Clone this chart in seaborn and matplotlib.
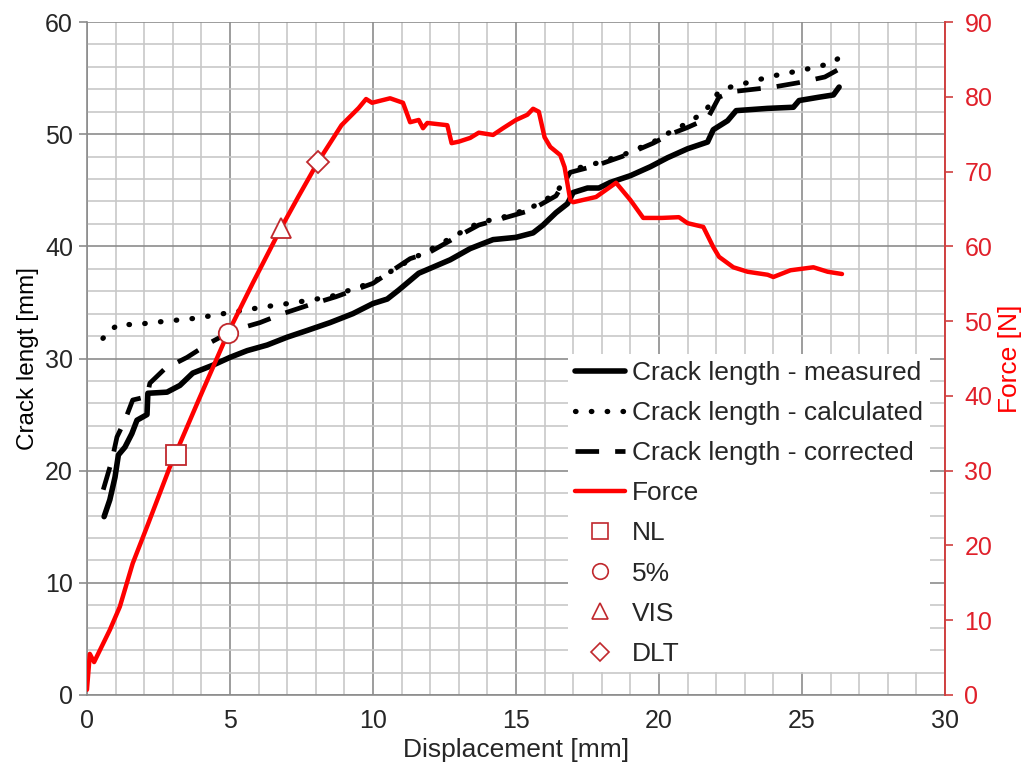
import matplotlib
matplotlib.use("Agg")
import matplotlib.pyplot as plt
from matplotlib.ticker import MultipleLocator
from matplotlib.lines import Line2D
import seaborn as sns

# ----------------------------------------------------------------------
# Data
# ----------------------------------------------------------------------
force_x = [0, 0.07, 0.1, 0.25, 0.8, 1.15, 1.6, 2.1, 2.9, 3.9, 4.93, 5.8, 6.78, 7.4,
           8.08, 8.9, 9.5, 9.76, 9.97, 10.6, 11.05, 11.3, 11.6, 11.75, 11.9, 12.6,
           12.75, 13.0, 13.4, 13.7, 14.2, 14.55, 15.0, 15.4, 15.6, 15.8, 16.0, 16.2,
           16.55, 16.7, 16.9, 17.0, 17.8, 18.5, 19.0, 19.45, 20.1, 20.7, 21.0, 21.55,
           21.9, 22.1, 22.6, 23.1, 23.8, 24.0, 24.6, 25.4, 25.9, 26.4]
force = [0.7, 4.0, 5.5, 4.4, 8.7, 11.8, 17.6, 22.5, 30.5, 39.4, 48.4, 55.1, 62.4, 66.7,
         71.3, 76.2, 78.5, 79.7, 79.2, 79.8, 79.2, 76.6, 76.9, 75.8, 76.5, 76.2,
         73.8, 74.0, 74.5, 75.2, 74.9, 75.8, 76.9, 77.6, 78.4, 78.0, 74.6, 73.3,
         72.2, 70.6, 66.2, 65.9, 66.6, 68.5, 66.2, 63.8, 63.8, 63.9, 63.1, 62.6,
         59.9, 58.6, 57.2, 56.6, 56.2, 55.9, 56.8, 57.2, 56.6, 56.3]

meas_x = [0.6, 0.8, 0.98, 1.1, 1.33, 1.57, 1.75, 2.1, 2.13, 2.8, 3.25, 3.7, 4.4, 5.0,
          5.6, 6.3, 7.0, 7.7, 8.5, 9.3, 10.0, 10.5, 10.9, 11.6, 12.7, 13.4, 14.2,
          15.0, 15.6, 15.95, 16.4, 16.8, 17.0, 17.5, 17.9, 18.3, 19.0, 19.7, 20.3,
          21.0, 21.7, 21.9, 22.4, 22.7, 23.8, 24.7, 24.9, 25.6, 26.1, 26.3]
meas = [15.9, 17.4, 19.4, 21.4, 22.1, 23.3, 24.5, 25.0, 26.9, 27.0, 27.6, 28.7, 29.4,
        30.1, 30.7, 31.2, 31.9, 32.5, 33.2, 34.0, 34.9, 35.3, 36.1, 37.6, 38.8, 39.8,
        40.6, 40.8, 41.2, 41.9, 43.0, 43.8, 44.8, 45.2, 45.2, 45.7, 46.3, 47.1, 47.9,
        48.7, 49.3, 50.4, 51.2, 52.1, 52.3, 52.4, 53.0, 53.3, 53.5, 54.2]

calc_x = [0.56, 0.8, 1.15, 1.6, 2.66, 3.85, 5.0, 6.2, 7.3, 8.5, 10.0, 11.3, 12.0, 12.9,
          13.7, 14.55, 15.5, 16.4, 16.9, 17.8, 18.7, 19.8, 20.4, 21.0, 21.6, 22.1,
          22.5, 24.0, 25.0, 26.0, 26.3]
calc = [31.8, 32.5, 33.1, 33.0, 33.3, 33.6, 34.1, 34.6, 35.0, 35.5, 36.8, 38.8, 39.7,
        41.0, 42.1, 42.6, 43.4, 44.7, 46.8, 47.4, 48.1, 49.3, 50.2, 51.0, 52.0, 53.8,
        54.2, 55.2, 55.7, 56.3, 56.8]

corr_x = [0.57, 0.87, 1.05, 1.33, 1.6, 2.1, 2.2, 2.73, 3.5, 4.3, 5.1, 6.05, 6.85, 7.8,
          8.7, 10.0, 11.3, 12.0, 12.9, 13.7, 14.55, 15.5, 16.4, 16.9, 17.8, 18.7,
          19.8, 20.4, 21.0, 21.7, 22.1, 22.6, 24.0, 24.9, 25.8, 26.3]
corr = [18.3, 20.9, 23.0, 24.5, 26.3, 26.6, 27.8, 29.1, 30.1, 31.4, 32.5, 33.2, 34.0,
        34.8, 35.5, 36.7, 38.9, 39.5, 40.8, 41.9, 42.5, 43.2, 44.5, 46.6, 47.2, 48.0,
        49.2, 50.0, 50.6, 51.4, 53.3, 53.8, 54.2, 54.6, 55.1, 55.8]

point_labels = ["NL", "5%", "VIS", "DLT"]
point_x = [3.1, 4.93, 6.78, 8.08]
point_force = [32.1, 48.4, 62.4, 71.3]
point_markers = ["s", "o", "^", "D"]
point_sizes = [15, 14, 15, 11]

# ----------------------------------------------------------------------
# Style
# ----------------------------------------------------------------------
sns.set_style("white")
plt.rcParams["font.family"] = ["Liberation Sans", "DejaVu Sans"]

RED = "#ff0000"
MARK_EDGE = "#c0282d"
TEXT = "#262626"
DOTS = (0, (0.1, 2.9))
DASHES = (0, (5.0, 3.4))

fig = plt.figure(figsize=(10.35, 7.78), dpi=100)
ax = fig.add_axes([0.084, 0.1067, 0.829, 0.865])
ax2 = ax.twinx()

# crack length curves
sns.lineplot(x=calc_x, y=calc, ax=ax, color="black", lw=3.8, sort=False, linestyle=DOTS)
ax.lines[-1].set_dash_capstyle("round")
sns.lineplot(x=corr_x, y=corr, ax=ax, color="black", lw=3.4, sort=False, linestyle=DASHES)
sns.lineplot(x=meas_x, y=meas, ax=ax, color="black", lw=4.0, sort=False)

# force curve + characteristic points
sns.lineplot(x=force_x, y=force, ax=ax2, color=RED, lw=3.2, sort=False)
for px, pf, m, s in zip(point_x, point_force, point_markers, point_sizes):
    ax2.plot(px, pf, marker=m, ms=s, mfc="white", mec=MARK_EDGE, mew=1.3,
             linestyle="none", zorder=5)

# axes limits / ticks / grid
ax.set_xlim(0, 30)
ax.set_ylim(0, 60)
ax2.set_ylim(0, 90)

ax.xaxis.set_major_locator(MultipleLocator(5))
ax.xaxis.set_minor_locator(MultipleLocator(1))
ax.yaxis.set_major_locator(MultipleLocator(10))
ax.yaxis.set_minor_locator(MultipleLocator(2))
ax2.yaxis.set_major_locator(MultipleLocator(10))

ax.grid(which="minor", color="#c8c8c8", lw=1.2)
ax.grid(which="major", color="#8c8c8c", lw=1.2)
ax.set_axisbelow(True)
ax2.grid(False)

ax.tick_params(axis="both", which="major", direction="out", length=6, width=1.2,
               color="#8c8c8c", labelsize=18, labelcolor=TEXT, pad=4)
ax.tick_params(axis="both", which="minor", length=0)
ax2.tick_params(axis="y", which="major", direction="out", length=6, width=1.2,
                color="#d04040", labelsize=18, labelcolor="#e0202a", pad=8)

for side in ["top", "right"]:
    ax.spines[side].set_visible(False)
ax.spines["left"].set_color("#8c8c8c")
ax.spines["bottom"].set_color("#8c8c8c")
ax2.spines["top"].set_visible(False)
ax2.spines["left"].set_visible(False)
ax2.spines["bottom"].set_visible(False)
ax2.spines["right"].set_color("#d04040")
ax2.spines["right"].set_linewidth(1.4)
for s in ["left", "bottom"]:
    ax.spines[s].set_linewidth(1.2)

ax.set_xlabel("Displacement [mm]", fontsize=19, color=TEXT, labelpad=4)
ax.set_ylabel("Crack lengt [mm]", fontsize=17.5, color="black", labelpad=4)
ax2.set_ylabel("Force [N]", fontsize=19, color=RED, labelpad=4)

# legend
handles = [
    Line2D([], [], color="black", lw=4.0),
    Line2D([], [], color="black", lw=3.8, linestyle=DOTS, dash_capstyle="round"),
    Line2D([], [], color="black", lw=3.4, linestyle=DASHES),
    Line2D([], [], color=RED, lw=3.2),
]
for m, s in zip(point_markers, point_sizes):
    handles.append(Line2D([], [], marker=m, ms=s * 0.8, mfc="white", mec=MARK_EDGE,
                          mew=1.2, linestyle="none"))
labels = ["Crack length - measured", "Crack length - calculated",
          "Crack length - corrected", "Force"] + point_labels
leg = ax2.legend(handles, labels, loc="upper left", bbox_to_anchor=(0.561, 0.506),
                 fontsize=19, frameon=True, facecolor="white", edgecolor="none",
                 framealpha=1, fancybox=False, handlelength=1.9, handletextpad=0.27,
                 labelspacing=0.61, borderpad=0.25, borderaxespad=0)
for t in leg.get_texts():
    t.set_color(TEXT)
leg.set_zorder(10)

fig.savefig("out.png", dpi=100)
